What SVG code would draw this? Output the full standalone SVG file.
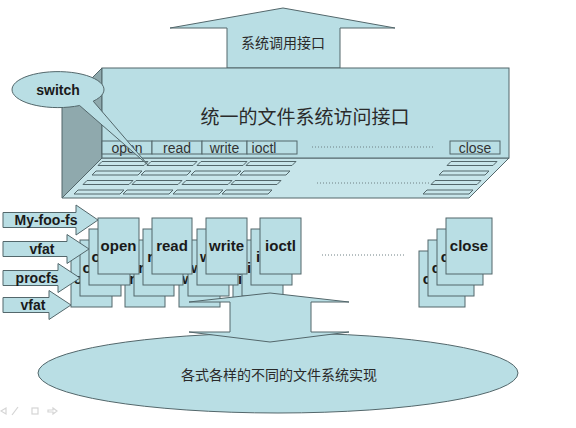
<svg xmlns="http://www.w3.org/2000/svg" width="576" height="428" viewBox="0 0 576 428">
<style>
.f{fill:#b9dee4;stroke:#53676b;stroke-width:1}
.side{fill:#8fa9ad;stroke:#53676b;stroke-width:1}
.bot{fill:#c7e5ea;stroke:#53676b;stroke-width:1}
.slot{fill:#c7e5ea;stroke:#53676b;stroke-width:1}
.lat{font-family:"Liberation Sans",Arial,sans-serif;fill:#1a1a1a}
.bold{font-weight:bold;font-size:15px}
.btn{font-size:14px;fill:#333}
.cjk{font-family:"Noto Sans CJK SC","Noto Sans CJK JP",sans-serif;fill:#2a2a2a}
.dot{stroke:#6f8084;stroke-width:1;stroke-dasharray:1 2;fill:none}
.ic{fill:none;stroke:#d5d5d5;stroke-width:1.2}
</style>
<rect width="576" height="428" fill="#ffffff"/>

<g id="syscall-arrow">
<polygon class="f" points="283,8 395,28 340,28 340,68 227,68 227,28 170,28"/>
<text class="cjk" x="283" y="48" font-size="14" text-anchor="middle">系统调用接口</text>
</g>

<g id="vfs-box">
<polygon class="side" points="102,68 62,108 62,198 102,158"/>
<polygon class="bot" points="102,158 509,158 469,198 62,198"/>
<rect class="f" x="102" y="68" width="407" height="90"/>
<text class="cjk" x="305" y="124" font-size="19" text-anchor="middle">统一的文件系统访问接口</text>
<g id="vfs-buttons">
<rect class="f" x="102" y="141" width="50" height="13"/>
<rect class="f" x="152" y="141" width="50" height="13"/>
<rect class="f" x="202" y="141" width="45" height="13"/>
<rect class="f" x="247" y="141" width="50" height="13"/>
<rect class="f" x="450" y="141" width="50" height="13"/>
<text class="lat btn" x="127" y="153" text-anchor="middle">open</text>
<text class="lat btn" x="177" y="153" text-anchor="middle">read</text>
<text class="lat btn" x="224.5" y="153" text-anchor="middle">write</text>
<text class="lat btn" x="264" y="153" text-anchor="middle">ioctl</text>
<text class="lat btn" x="475" y="153" text-anchor="middle">close</text>
<line class="dot" x1="312" y1="147" x2="433" y2="147"/>
</g>
<g id="vfs-slots">
<polygon class="slot" points="102,161.5 148,161.5 144,165.5 98,165.5"/>
<polygon class="slot" points="151,161.5 197,161.5 193,165.5 147,165.5"/>
<polygon class="slot" points="201,161.5 247,161.5 243,165.5 197,165.5"/>
<polygon class="slot" points="250,161.5 296,161.5 292,165.5 246,165.5"/>
<polygon class="slot" points="96,171 142,171 138,175 92,175"/>
<polygon class="slot" points="145,171 191,171 187,175 141,175"/>
<polygon class="slot" points="195,171 241,171 237,175 191,175"/>
<polygon class="slot" points="244,171 290,171 286,175 240,175"/>
<polygon class="slot" points="87,180.5 133,180.5 129,184.5 83,184.5"/>
<polygon class="slot" points="136,180.5 182,180.5 178,184.5 132,184.5"/>
<polygon class="slot" points="186,180.5 232,180.5 228,184.5 182,184.5"/>
<polygon class="slot" points="235,180.5 281,180.5 277,184.5 231,184.5"/>
<polygon class="slot" points="78,190 124,190 120,194 74,194"/>
<polygon class="slot" points="127,190 173,190 169,194 123,194"/>
<polygon class="slot" points="177,190 223,190 219,194 173,194"/>
<polygon class="slot" points="226,190 272,190 268,194 222,194"/>
<polygon class="slot" points="451,161.5 497,161.5 493,165.5 447,165.5"/>
<polygon class="slot" points="443,171 489,171 485,175 439,175"/>
<polygon class="slot" points="435,180.5 481,180.5 477,184.5 431,184.5"/>
<polygon class="slot" points="427,190 473,190 469,194 423,194"/>
<line class="dot" x1="317" y1="183" x2="431" y2="183"/>
</g>
</g>

<g id="switch">
<path class="f" d="M79.6,105.5 A46 18 0 1 1 93.2,101.2 L148,165 Z"/>
<text class="lat" x="58" y="95" font-size="14" font-weight="bold" text-anchor="middle">switch</text>
</g>

<g id="layer-vfat-2">
<g id="p3-open"><rect class="f" x="71" y="251" width="41" height="56"/><text class="lat bold" x="73.6" y="284">o</text></g>
<g id="p3-read"><rect class="f" x="125" y="251" width="40" height="56"/><text class="lat bold" x="129.2" y="284">r</text></g>
<g id="p3-write"><rect class="f" x="179" y="251" width="41" height="56"/><text class="lat bold" x="182" y="284">w</text></g>
<g id="p3-ioctl"><rect class="f" x="233" y="251" width="41" height="56"/><text class="lat bold" x="238.1" y="284">i</text></g>
<g id="p3-close"><rect class="f" x="419" y="251" width="46" height="56"/><text class="lat bold" x="422.8" y="284">c</text></g>
</g>
<g id="layer-procfs">
<g id="p2-open"><rect class="f" x="80" y="240" width="41" height="56"/><text class="lat bold" x="82.6" y="273">o</text></g>
<g id="p2-read"><rect class="f" x="134" y="240" width="40" height="56"/><text class="lat bold" x="138.2" y="273">r</text></g>
<g id="p2-write"><rect class="f" x="188" y="240" width="41" height="56"/><text class="lat bold" x="191" y="273">w</text></g>
<g id="p2-ioctl"><rect class="f" x="242" y="240" width="41" height="56"/><text class="lat bold" x="247.1" y="273">i</text></g>
<g id="p2-close"><rect class="f" x="428" y="240" width="46" height="56"/><text class="lat bold" x="431.8" y="273">c</text></g>
</g>
<g id="layer-vfat-1">
<g id="p1-open"><rect class="f" x="89" y="229" width="41" height="56"/><text class="lat bold" x="91.6" y="262">o</text></g>
<g id="p1-read"><rect class="f" x="143" y="229" width="40" height="56"/><text class="lat bold" x="147.2" y="262">r</text></g>
<g id="p1-write"><rect class="f" x="197" y="229" width="41" height="56"/><text class="lat bold" x="200" y="262">w</text></g>
<g id="p1-ioctl"><rect class="f" x="251" y="229" width="41" height="56"/><text class="lat bold" x="256.1" y="262">i</text></g>
<g id="p1-close"><rect class="f" x="437" y="229" width="46" height="56"/><text class="lat bold" x="440.8" y="262">c</text></g>
</g>
<g id="layer-my-foo-fs">
<g id="p0-open"><rect class="f" x="98" y="218" width="41" height="56"/><text class="lat bold" x="118.5" y="251" text-anchor="middle">open</text></g>
<g id="p0-read"><rect class="f" x="152" y="218" width="40" height="56"/><text class="lat bold" x="172" y="251" text-anchor="middle">read</text></g>
<g id="p0-write"><rect class="f" x="206" y="218" width="41" height="56"/><text class="lat bold" x="226.5" y="251" text-anchor="middle">write</text></g>
<g id="p0-ioctl"><rect class="f" x="260" y="218" width="41" height="56"/><text class="lat bold" x="280.5" y="251" text-anchor="middle">ioctl</text></g>
<g id="p0-close"><rect class="f" x="446" y="218" width="46" height="56"/><text class="lat bold" x="469" y="251" text-anchor="middle">close</text></g>
</g>
<line class="dot" x1="322" y1="255" x2="404" y2="255"/>

<g id="fs-arrows">
<g id="fs-myfoofs"><polygon class="f" points="3,212.5 76,212.5 76,205 98,220 76,235 76,227.5 3,227.5"/><text class="lat" x="46" y="225" font-size="14" font-weight="bold" text-anchor="middle">My-foo-fs</text></g>
<g id="fs-vfat-1"><polygon class="f" points="3,241.5 67,241.5 67,234.5 89,249 67,263.5 67,256.5 3,256.5"/><text class="lat" x="42" y="254" font-size="14" font-weight="bold" text-anchor="middle">vfat</text></g>
<g id="fs-procfs"><polygon class="f" points="3,270.5 58,270.5 58,263.5 80,278 58,292.5 58,285.5 3,285.5"/><text class="lat" x="37" y="283" font-size="14" font-weight="bold" text-anchor="middle">procfs</text></g>
<g id="fs-vfat-2"><polygon class="f" points="3,297.5 49,297.5 49,290.5 71,305 49,319.5 49,312.5 3,312.5"/><text class="lat" x="33" y="310" font-size="14" font-weight="bold" text-anchor="middle">vfat</text></g>
</g>

<g id="impl">
<ellipse class="f" cx="278" cy="373" rx="240" ry="40"/>
<text class="cjk" x="279" y="380" font-size="14" text-anchor="middle">各式各样的不同的文件系统实现</text>
</g>

<g id="connectors">
<polygon class="f" points="270,293 349,302 311,302 311,332 349,332 270,342 189,332 230,332 230,302 189,302"/>
</g>

<g id="slide-icons">
<path class="ic" d="M1,411 L6,408 L6,414 Z"/>
<line class="ic" x1="12" y1="415" x2="18" y2="407"/>
<rect class="ic" x="32" y="408" width="6" height="6"/>
<path class="ic" d="M48,410 L53,410 L53,408 L57,411 L53,414 L53,412 L48,412 Z"/>
</g>
</svg>
